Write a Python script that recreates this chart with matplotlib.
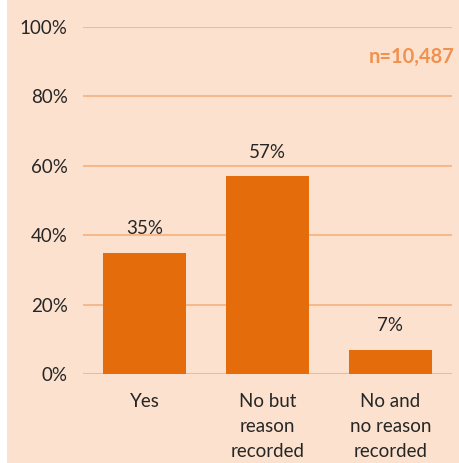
import matplotlib
matplotlib.use("Agg")
import matplotlib.pyplot as plt

categories = ["Yes", "No but\nreason\nrecorded", "No and\nno reason\nrecorded"]
values = [35, 57, 7]
value_labels = ["35%", "57%", "7%"]
yticks = [0, 20, 40, 60, 80, 100]
ytick_labels = ["0%", "20%", "40%", "60%", "80%", "100%"]
n_label = "n=10,487"

bg = "#FCE2CE"
bar_color = "#E46C0A"
grid_color = "#F6B98E"
text_color = "#262626"

plt.rcParams['font.family'] = ['Lato', 'DejaVu Sans']
fs = 13.5

fig = plt.figure(figsize=(4.6, 4.63), dpi=100)
fig.patch.set_facecolor("white")
fig.patches.append(plt.Rectangle((7/460, 0), 1 - 7/460, 1, transform=fig.transFigure,
                                 facecolor=bg, edgecolor="none", zorder=-10))

ax = fig.add_axes([83/460, 1 - 374/463, (452 - 83)/460, (374 - 27)/463])
ax.set_facecolor("none")
x = list(range(len(categories)))
ax.bar(x, values, width=0.67, color=bar_color, zorder=3)
ax.set_xlim(-0.5, 2.5)
ax.set_ylim(0, 100)
ax.set_yticks(yticks)
ax.set_yticklabels(ytick_labels, fontsize=fs, color=text_color)
ax.set_xticks(x)
ax.set_xticklabels(categories, fontsize=fs, color=text_color, linespacing=1.55, va="top")
ax.tick_params(axis="both", length=0)
ax.tick_params(axis="y", pad=11)
ax.tick_params(axis="x", pad=14)
ax.grid(axis="y", color=grid_color, linewidth=1.5, zorder=0)
for s in ax.spines.values():
    s.set_visible(False)
for xi, v, lab in zip(x, values, value_labels):
    ax.annotate(lab, (xi, v), xytext=(0, 11), textcoords="offset points",
                ha="center", va="bottom", fontsize=fs, color=text_color)

fig.text(455/460, 1 - 57/463, n_label, ha="right", va="center", fontsize=14.5,
         fontweight="bold", color="#F0914F")

fig.savefig("out.png", dpi=100, facecolor="white")
